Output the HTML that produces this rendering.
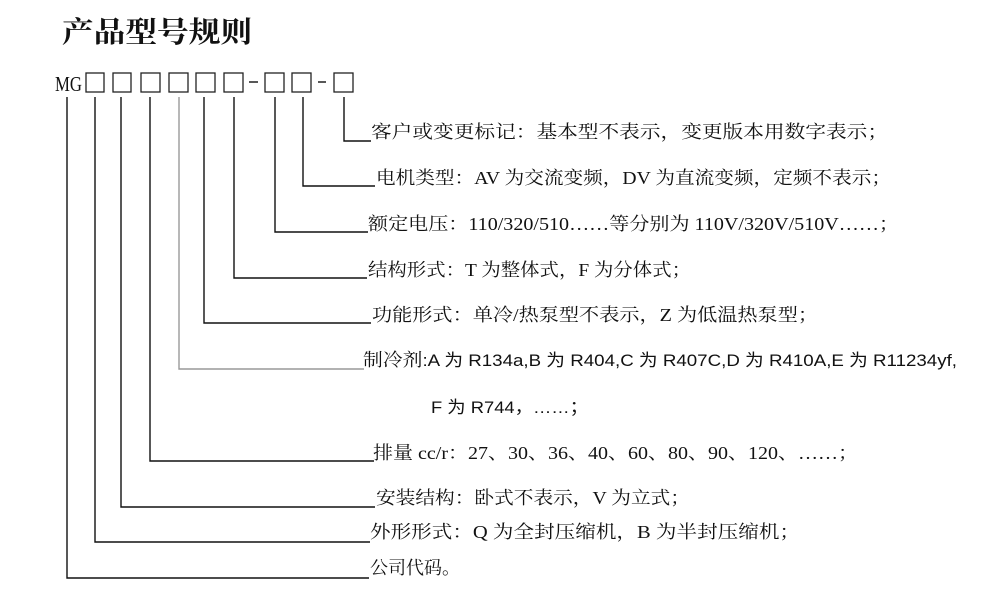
<!DOCTYPE html>
<html><head><meta charset="utf-8"><style>
html,body{margin:0;padding:0;background:#fff;width:1004px;height:598px;overflow:hidden}
svg text{font-family:"Liberation Serif","Noto Serif CJK SC",serif;font-size:18px;fill:#111}
.s{font-family:"Liberation Sans","Noto Sans CJK SC",sans-serif;font-size:17px}
</style></head><body>
<svg width="1004" height="598" viewBox="0 0 1004 598" xmlns="http://www.w3.org/2000/svg">
<text x="62" y="42" style="font-size:29px;font-weight:bold" textLength="190" lengthAdjust="spacingAndGlyphs">产品型号规则</text>
<text x="55" y="91" style="font-size:21px" textLength="27" lengthAdjust="spacingAndGlyphs">MG</text>
<g fill="none" stroke="#222" stroke-width="1.3">
<rect x="86" y="73" width="18" height="19"/>
<rect x="113" y="73" width="18" height="19"/>
<rect x="141" y="73" width="19" height="19"/>
<rect x="169" y="73" width="19" height="19"/>
<rect x="196" y="73" width="19" height="19"/>
<rect x="224" y="73" width="19" height="19"/>
<rect x="265" y="73" width="19" height="19"/>
<rect x="292" y="73" width="19" height="19"/>
<rect x="334" y="73" width="19" height="19"/>
</g>
<g stroke="#111" stroke-width="1.4" fill="none">
<line x1="249" y1="82" x2="258" y2="82"/>
<line x1="318" y1="82" x2="326" y2="82"/>
<polyline points="344,97 344,141 371,141"/>
<polyline points="303,97 303,186 375,186"/>
<polyline points="275,97 275,232 368,232"/>
<polyline points="234,97 234,278 367,278"/>
<polyline points="204,97 204,323 371,323"/>
<polyline points="179,97 179,369 364,369" stroke="#999"/>
<polyline points="150,97 150,461 374,461"/>
<polyline points="121,97 121,507 375,507"/>
<polyline points="95,97 95,542 370,542"/>
<polyline points="67,97 67,578 369,578"/>
</g>
<text x="371" y="138" textLength="517" lengthAdjust="spacingAndGlyphs">客户或变更标记：基本型不表示，变更版本用数字表示；</text>
<text x="376" y="184" textLength="515" lengthAdjust="spacingAndGlyphs">电机类型：AV 为交流变频，DV 为直流变频，定频不表示；</text>
<text x="368" y="230" textLength="531" lengthAdjust="spacingAndGlyphs">额定电压：110/320/510……等分别为 110V/320V/510V……；</text>
<text x="368" y="276" textLength="323" lengthAdjust="spacingAndGlyphs">结构形式：T 为整体式，F 为分体式；</text>
<text x="372" y="321" textLength="446" lengthAdjust="spacingAndGlyphs">功能形式：单冷/热泵型不表示，Z 为低温热泵型；</text>
<text x="363" y="366" textLength="594" lengthAdjust="spacingAndGlyphs">制冷剂<tspan class="s">:A 为 R134a,B 为 R404,C 为 R407C,D 为 R410A,E 为 R11234yf,</tspan></text>
<text class="s" x="431" y="413" textLength="157" lengthAdjust="spacingAndGlyphs">F 为 R744，……；</text>
<text x="373" y="459" textLength="485" lengthAdjust="spacingAndGlyphs">排量 cc/r：27、30、36、40、60、80、90、120、……；</text>
<text x="376" y="504" textLength="314" lengthAdjust="spacingAndGlyphs">安装结构：卧式不表示，V 为立式；</text>
<text x="370" y="538" textLength="430" lengthAdjust="spacingAndGlyphs">外形形式：Q 为全封压缩机，B 为半封压缩机；</text>
<text x="370" y="574" textLength="90" lengthAdjust="spacingAndGlyphs">公司代码。</text>
</svg>
</body></html>
